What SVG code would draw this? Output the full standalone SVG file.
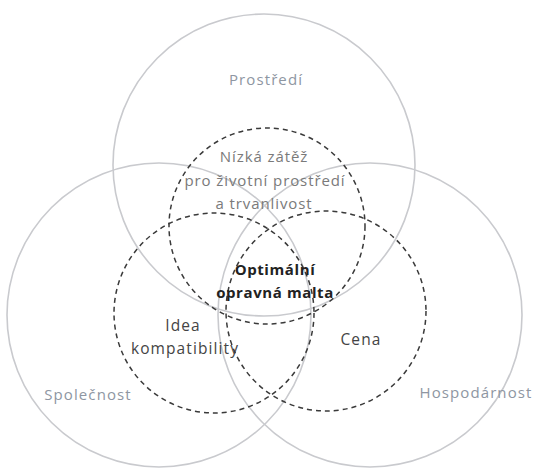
<svg xmlns="http://www.w3.org/2000/svg" width="545" height="472" viewBox="0 0 545 472">
<style>
.big{fill:none;stroke:#c9cace;stroke-width:1.6}
.dash{fill:none;stroke:#3a3a3a;stroke-width:1.5;stroke-dasharray:5 4}
text{font-family:"Open Sans","Liberation Sans",sans-serif;text-anchor:middle}
.lab{font-size:15px;fill:#8e96a2;letter-spacing:1.1px}
.mid{font-size:15px;fill:#7a7a7a;letter-spacing:0.9px}
.inner{font-size:15.5px;fill:#444;letter-spacing:1.1px}
.core{font-size:15px;fill:#222;font-weight:bold;letter-spacing:0.6px}
</style>
<rect width="545" height="472" fill="#fff"/>
<g id="connectors"></g>
<g id="prostredi"><circle class="big" cx="264" cy="165" r="151"/><text class="lab" x="266" y="85">Prostředí</text></g>
<g id="spolecnost"><circle class="big" cx="159" cy="315" r="152"/><text class="lab" x="88" y="400">Společnost</text></g>
<g id="hospodarnost"><circle class="big" cx="370" cy="315" r="152"/><text class="lab" x="476" y="398">Hospodárnost</text></g>
<g id="zatez"><circle class="dash" cx="267" cy="226" r="98"/><text class="mid" x="264" y="162">Nízká zátěž</text><text class="mid" x="265" y="186">pro životní prostředí</text><text class="mid" x="264" y="209">a trvanlivost</text></g>
<g id="kompatibilita"><circle class="dash" cx="214" cy="313" r="100"/><text class="inner" x="183" y="331">Idea</text><text class="inner" x="185" y="354">kompatibility</text></g>
<g id="cena"><circle class="dash" cx="326" cy="311" r="100"/><text class="inner" x="361" y="345">Cena</text></g>
<g id="optimalni"><text class="core" x="275" y="275">Optimální</text><text class="core" x="275" y="298">opravná malta</text></g>
</svg>
